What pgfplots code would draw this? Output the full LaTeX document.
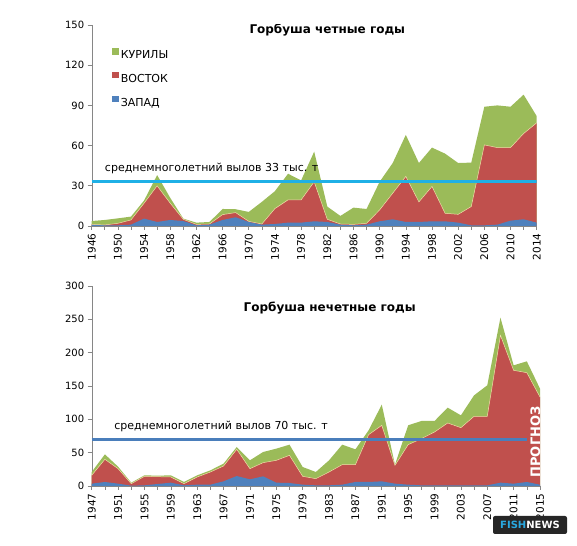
\documentclass[border=0pt]{standalone}
\usepackage{pgfplots}
\usepackage{pgfplotstable}
\pgfplotsset{compat=1.18}
\usepackage{fontspec}
\setmainfont{DejaVu Sans}
\definecolor{cgreen}{HTML}{9BBB59}
\definecolor{cred}{HTML}{C0504D}
\definecolor{cblue}{HTML}{4F81BD}
\definecolor{ccyan}{RGB}{31,176,230}
\definecolor{cline}{HTML}{4A7EBB}
\definecolor{axgray}{HTML}{868686}
\definecolor{fishblue}{RGB}{41,168,224}
\definecolor{edge}{RGB}{238,226,170}

% year, total (green top), red top (blue+red), blue
\pgfplotstableread{
year tot red blue
1946 3.7 1.2 1
1948 4.5 0.8 0.5
1950 5.7 2 0.5
1952 7 4.5 1
1954 19 17 5.5
1956 38 30 3
1958 21 17 4.5
1960 5.5 5 3.7
1962 2.5 1.2 0.5
1964 3 1.5 1
1966 12.7 8.5 4.5
1968 12.5 10 6.5
1970 10.5 3.5 3
1972 18 1.5 1
1974 26 13 1.5
1976 39 19.5 2.5
1978 34 19.5 2.5
1980 55.5 33 3.5
1982 14.5 5 3
1984 7.5 1.5 1
1986 13.7 1.2 0.5
1988 12.7 2 1
1990 33 12 3.5
1992 47 24.5 5
1994 68 37 3
1996 47 18 3
1998 58.5 29.5 3.5
2000 54 9.5 3.5
2002 47 8.7 2.5
2004 47.3 14.5 0.5
2006 89 60.5 0.5
2008 90 58.5 1
2010 89 58.5 4
2012 98 69 5
2014 82 77 2.5
}\evendata

\pgfplotstableread{
year tot red blue
1947 21 16 3.5
1949 47.5 40 6
1951 29 26 3.5
1953 5 3.5 0.5
1955 16 14.5 1
1957 15.5 14 3
1959 16 13.5 5
1961 6 3.5 1
1963 16 13.5 2
1965 23.5 21 2
1967 33.5 30 7
1969 58.5 55 15
1971 38.5 26 10
1973 51 35 14.5
1975 56 38.5 5
1977 62 46 4.5
1979 28.5 14.5 2
1981 21 11 1
1983 38.5 21 1
1985 62 32 2
1987 55 32 6
1989 83.5 77 6
1991 122 91 7
1993 32 31 3.5
1995 91 62 2
1997 97.5 71 1
1999 97.5 81 1
2001 117.5 94.5 1
2003 106 87.5 1
2005 136 104.5 1
2007 151 104.5 1
2009 252.5 226 5
2011 181 173.5 3.5
2013 187 170 6
2015 146 133.5 2
}\odddata

\pgfplotsset{
  myax/.style={
    scale only axis,
    axis x line*=bottom, axis y line*=left,
    axis line style={draw=axgray,-},
    every tick/.style={draw=axgray, line width=0.6pt},
    tick align=outside,
    major tick length=4pt, minor tick length=4pt,
    xticklabel style={rotate=90, anchor=east, font=\fontsize{10.5}{12}\selectfont},
    yticklabel style={font=\fontsize{10}{12}\selectfont},
    /pgf/number format/assume math mode=true,
    /pgf/number format/set thousands separator={},
    ymin=0,
  },
}

\begin{document}
\begin{tikzpicture}
\path[use as bounding box] (0pt,0pt) rectangle (577pt,545pt);

% ---------- top: even years ----------
\begin{axis}[myax,
  at={(91.7pt,319pt)}, anchor=south west,
  width=445pt, height=201pt,
  xmin=1946, xmax=2014, ymax=150,
  xtick={1946,1950,...,2014},
  minor xtick={1948,1952,...,2012},
  ytick={0,30,...,150},
  legend image code/.code={\fill[#1] (0pt,0.5pt) rectangle (6.5pt,7pt);},
  legend style={at={(rel axis cs:0.046,0.886)}, anchor=north west,
    draw=none, fill=none, inner sep=0pt, row sep=12pt,
    nodes={inner xsep=2pt, inner ysep=0pt},
    font=\fontsize{11}{13}\selectfont, cells={anchor=west}},
]
\addplot[fill=cgreen, draw=none] table[x=year,y=tot] {\evendata} \closedcycle;
\addlegendentry{КУРИЛЫ}
\addplot[fill=cred, draw=none] table[x=year,y=red] {\evendata} \closedcycle;
\addlegendentry{ВОСТОК}
\addplot[fill=cblue, draw=none] table[x=year,y=blue] {\evendata} \closedcycle;
\addlegendentry{ЗАПАД}
\addplot[forget plot, draw=edge, line width=0.5pt] table[x=year,y=red] {\evendata};
\addplot[forget plot, draw=ccyan, line width=3.3pt] coordinates {(1946,33) (2014,33)};
\node[anchor=west, inner sep=0pt, font=\fontsize{11}{13}\selectfont] at (axis cs:1948.0,43.3) {среднемноголетний вылов 33 тыс. т};
\node[font=\bfseries\fontsize{12}{14}\selectfont] at (axis cs:1982,146.5) {Горбуша четные годы};
\end{axis}

% ---------- bottom: odd years ----------
\begin{axis}[myax,
  at={(91.7pt,59pt)}, anchor=south west,
  width=448.3pt, height=200pt,
  xmin=1947, xmax=2015, ymax=300,
  xtick={1947,1951,...,2015},
  minor xtick={1949,1953,...,2013},
  ytick={0,50,...,300},
]
\addplot[fill=cgreen, draw=none] table[x=year,y=tot] {\odddata} \closedcycle;
\addplot[fill=cred, draw=none] table[x=year,y=red] {\odddata} \closedcycle;
\addplot[fill=cblue, draw=none] table[x=year,y=blue] {\odddata} \closedcycle;
\addplot[draw=edge, line width=0.5pt] table[x=year,y=red] {\odddata};
\addplot[draw=cline, line width=3pt] coordinates {(1947,69) (2013,69)};
\node[anchor=west, inner sep=0pt, font=\fontsize{11}{13}\selectfont] at (axis cs:1950.4,88.6) {среднемноголетний вылов 70 тыс. т};
\node[font=\bfseries\fontsize{12}{14}\selectfont] at (axis cs:1983.1,267) {Горбуша нечетные годы};
\node[rotate=90, text=white, inner sep=0pt, font=\bfseries\fontsize{13}{15}\selectfont] at (axis cs:2014.3,66) {ПРОГНОЗ};
\end{axis}

% logo
\node[fill=black!85, rounded corners=2pt, minimum width=74pt, minimum height=18pt,
  inner sep=0pt, text=white, font=\bfseries\fontsize{10}{12}\selectfont]
  at (530pt,20pt) {{\color{fishblue}FISH}NEWS};
\end{tikzpicture}
\end{document}
